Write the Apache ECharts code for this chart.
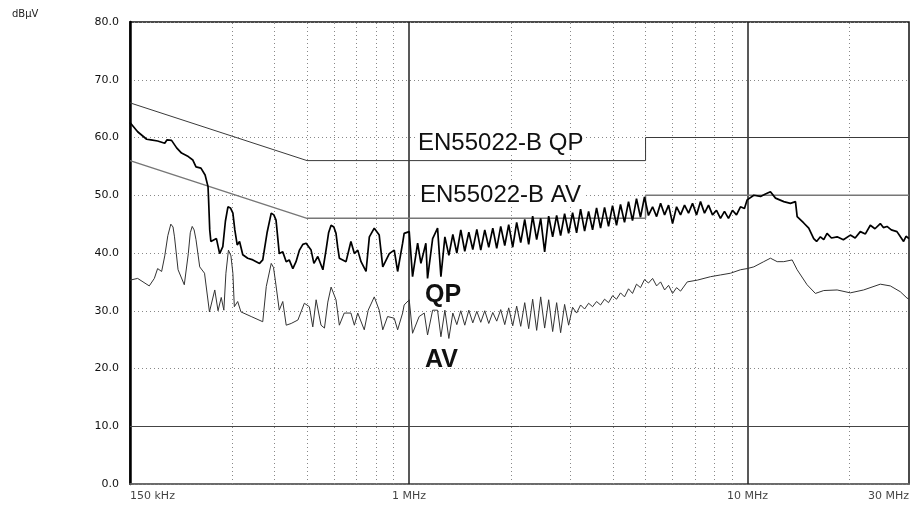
<!DOCTYPE html>
<html>
<head>
<meta charset="utf-8">
<script src="https://cdn.jsdelivr.net/npm/echarts@6/dist/echarts.min.js"></script>
<style>
html,body{margin:0;padding:0;background:#fff;}
#chart{width:912px;height:506px;}
</style>
</head>
<body>
<div id="chart"></div>
<script>
// ---- data (frequency in MHz, level in dBuV) ----
var qpScan = [
[0.150,62.6],[0.158,61.0],[0.168,59.7],[0.173,59.6],[0.181,59.4],[0.190,59.0],[0.193,59.6],[0.199,59.5],[0.206,58.2],[0.213,57.3],
[0.223,56.7],[0.230,56.1],[0.235,54.9],[0.243,54.7],[0.250,53.5],[0.255,51.5],[0.256,49.2],[0.258,44.0],[0.260,42.0],[0.270,42.5],
[0.276,39.9],[0.282,41.1],[0.287,45.5],[0.292,48.0],[0.297,47.8],[0.302,46.9],[0.306,44.0],[0.311,41.4],[0.316,42.0],[0.323,39.7],
[0.334,39.1],[0.346,38.8],[0.362,38.2],[0.370,38.8],[0.381,43.5],[0.392,46.9],[0.399,46.6],[0.405,45.7],[0.410,42.5],[0.414,39.9],
[0.424,40.2],[0.434,38.5],[0.443,38.8],[0.454,37.3],[0.464,38.5],[0.475,40.5],[0.486,41.5],[0.497,41.7],[0.514,40.5],[0.524,38.2],
[0.538,39.4],[0.557,37.1],[0.569,40.5],[0.579,43.5],[0.589,44.8],[0.600,44.5],[0.609,43.4],[0.616,41.0],[0.623,39.1],[0.652,38.5],
[0.674,42.0],[0.690,39.9],[0.706,40.5],[0.722,38.5],[0.747,36.8],[0.764,42.8],[0.790,44.3],[0.817,43.1],[0.837,37.6],[0.875,39.9],
[0.905,40.5],[0.926,36.8],[0.958,41.7],[0.968,43.4],[1.002,43.7],[1.025,35.9],[1.061,41.7],[1.085,38.2],[1.122,41.7],[1.135,35.6],
[1.175,42.5],[1.215,44.3],[1.243,35.9],
[1.277,42.8],[1.312,39.6],[1.348,43.2],[1.385,40.0],[1.423,44.0],[1.462,40.3],[1.503,43.6],[1.544,40.6],[1.587,44.1],[1.630,40.5],
[1.675,44.0],[1.721,41.0],[1.769,44.3],[1.817,40.8],[1.867,44.6],[1.919,41.3],[1.971,44.9],[2.026,41.0],[2.081,45.3],[2.139,41.8],
[2.198,45.8],[2.258,41.5],[2.320,46.4],[2.384,42.3],[2.450,46.0],[2.517,40.2],[2.587,46.4],[2.658,42.8],[2.731,46.5],[2.806,43.0],
[2.883,46.8],[2.963,43.4],[3.044,47.0],[3.128,43.5],[3.214,47.6],[3.303,43.8],[3.394,47.2],[3.487,44.0],[3.583,47.8],[3.682,44.3],
[3.783,47.9],[3.887,44.6],[3.994,48.2],[4.104,44.8],[4.217,48.4],[4.333,45.3],[4.453,48.9],[4.575,45.6],[4.701,49.4],[4.831,46.2],
[4.964,49.7],[5.100,46.5],
[5.245,48.0],[5.390,46.3],[5.538,48.6],[5.691,46.6],[5.847,48.3],[6.008,45.1],[6.174,48.0],[6.344,46.6],[6.518,48.3],[6.698,46.9],
[6.882,48.6],[7.072,46.6],[7.266,48.9],[7.466,46.9],[7.672,48.3],[7.883,46.6],[8.100,47.4],[8.323,46.0],[8.552,47.2],[8.788,46.0],
[9.030,47.4],[9.279,46.6],[9.534,48.0],[9.797,47.7],
[9.98,49.2],[10.44,50.0],[10.93,49.8],[11.30,50.2],[11.69,50.6],[12.10,49.5],[12.80,48.9],[13.39,48.6],[13.86,48.9],[14.02,46.3],
[14.66,45.2],[15.17,44.3],[15.69,42.5],[16.00,42.0],[16.42,42.8],[16.80,42.3],[17.18,43.4],[17.70,42.6],[18.40,42.8],[19.20,42.3],
[20.13,43.1],[20.80,42.6],[21.54,43.7],[22.30,43.3],[23.06,44.8],[23.80,44.2],[24.68,45.1],[25.20,44.4],[25.83,44.6],[26.60,44.0],
[27.64,43.7],[28.30,42.8],[28.92,42.0],[29.40,42.9],[30.00,42.5]
];

var avScan = [
[0.150,35.3],[0.158,35.6],[0.171,34.3],[0.177,35.6],[0.181,37.3],[0.186,36.8],[0.190,39.5],[0.194,43.0],[0.198,45.0],[0.201,44.5],
[0.203,42.8],[0.208,37.1],[0.217,34.5],[0.223,39.9],[0.226,43.5],[0.229,44.6],[0.232,44.0],[0.235,42.3],[0.241,37.6],[0.249,36.5],
[0.2575,29.8],[0.267,33.6],[0.273,30.0],[0.279,32.3],[0.284,30.1],[0.288,36.5],[0.293,40.5],[0.298,39.5],[0.302,36.5],[0.305,30.7],
[0.312,31.6],[0.319,29.8],[0.342,29.0],[0.370,28.1],[0.379,34.2],[0.392,38.2],[0.398,37.5],[0.403,35.3],[0.414,30.1],[0.424,31.6],
[0.434,27.5],[0.449,27.8],[0.470,28.4],[0.491,31.3],[0.508,30.7],[0.520,27.2],[0.532,31.9],[0.550,27.5],[0.563,27.0],[0.576,31.5],
[0.589,34.1],[0.609,31.9],[0.623,27.5],[0.644,29.6],[0.674,29.6],[0.690,27.5],[0.706,29.6],[0.738,26.7],[0.758,30.1],[0.790,32.4],
[0.817,30.1],[0.837,26.7],[0.865,29.0],[0.905,28.7],[0.926,26.7],[0.958,29.6],[0.968,31.0],[1.002,31.9],[1.025,26.1],[1.072,29.0],
[1.110,29.6],[1.135,25.8],[1.175,30.1],[1.215,30.1],[1.243,25.5],
[1.277,30.1],[1.312,25.2],[1.348,29.6],[1.385,27.6],[1.423,30.0],[1.462,27.5],[1.503,30.1],[1.544,27.9],[1.587,29.9],[1.630,28.0],
[1.675,30.0],[1.721,27.8],[1.769,29.7],[1.817,28.2],[1.867,30.2],[1.919,27.6],[1.971,30.5],[2.026,27.4],[2.081,30.8],[2.139,27.3],
[2.198,31.4],[2.258,26.9],[2.320,32.0],[2.384,26.6],[2.450,32.4],[2.517,27.0],[2.587,31.9],[2.658,26.4],[2.731,31.4],[2.806,26.2],
[2.883,31.1],[2.963,27.5],[3.044,30.6],[3.128,29.6],[3.214,31.0],[3.303,30.3],[3.394,31.3],[3.487,30.7],[3.583,31.6],[3.682,31.0],
[3.783,32.0],[3.887,31.4],[3.994,32.6],[4.104,32.0],[4.217,33.1],[4.333,32.4],[4.453,33.8],[4.575,33.0],[4.701,34.6],[4.831,34.0],
[4.964,35.4],[5.100,34.8],
[5.245,35.6],[5.390,34.3],[5.538,35.0],[5.691,33.6],[5.847,34.4],[6.008,33.0],[6.174,34.0],[6.344,33.4],[6.640,35.0],[7.107,35.3],
[7.780,35.9],[8.326,36.2],[8.911,36.5],[9.537,37.1],[9.98,37.3],[10.44,37.6],[11.17,38.5],[11.69,39.1],[12.24,38.5],[12.80,38.5],
[13.55,38.8],[14.02,37.1],[15.00,34.5],[15.87,33.0],[16.80,33.5],[18.40,33.6],[20.13,33.1],[22.03,33.6],[24.68,34.6],[26.42,34.3],
[28.27,33.3],[29.59,32.2],[30.00,32.0]
];

var limitFreq = [0.15, 0.5, 5, 5, 30];
var qpLimitLevel = [66, 56, 56, 60, 60];
var avLimitLevel = [56, 46, 46, 50, 50];

var xTickValues = [0.15, 1, 10, 30];
var xTickLabels = ['150 kHz', '1 MHz', '10 MHz', '30 MHz'];
var minorGridFreq = [0.3, 0.4, 0.5, 0.6, 0.7, 0.8, 0.9, 2, 3, 4, 5, 6, 7, 8, 9, 20];
var majorGridFreq = [1, 10];
var solidLevel = [10];

// ---- chart ----
function pairs(fs, ls) { return fs.map(function (f, i) { return [f, ls[i]]; }); }

var chart = echarts.init(document.getElementById('chart'), null, { renderer: 'canvas' });

var gridLines = [];
minorGridFreq.forEach(function (f) {
  gridLines.push({ xAxis: f, lineStyle: { color: '#888', width: 1, type: [1, 3] } });
});
majorGridFreq.forEach(function (f) {
  gridLines.push({ xAxis: f, lineStyle: { color: '#222', width: 1.5, type: 'solid' } });
});
solidLevel.forEach(function (v) {
  gridLines.push({ yAxis: v, lineStyle: { color: '#444', width: 1, type: 'solid' } });
});

var labelAlign = ['left', 'center', 'center', 'right'];

chart.setOption({
  animation: false,
  backgroundColor: '#fff',
  grid: { left: 130, right: 3, top: 22, bottom: 22, show: true, borderColor: '#111', borderWidth: 1.5, backgroundColor: 'transparent' },
  xAxis: {
    type: 'log', logBase: 10, min: 0.15, max: 30,
    axisLine: { show: true, lineStyle: { color: '#777', width: 1.5 } },
    axisTick: { show: false }, axisLabel: { show: false }, splitLine: { show: false }, minorSplitLine: { show: false }
  },
  yAxis: {
    type: 'value', min: 0, max: 80, interval: 10,
    axisLine: { show: true, lineStyle: { color: '#000', width: 2.5 } },
    axisTick: { show: false },
    axisLabel: { formatter: function (v) { return v.toFixed(1); }, fontFamily: 'DejaVu Sans', fontSize: 11, color: '#111', margin: 11 },
    splitLine: { show: true, lineStyle: { color: '#888', width: 1, type: [1, 3] } }
  },
  graphic: [
    { type: 'text', left: 12, top: 9, z: 100, style: { text: 'dBµV', font: '10px "DejaVu Sans"', fill: '#222' } },
    { type: 'text', left: 416, top: 131, z: 100, style: { text: 'EN55022-B QP', font: '24px "Liberation Sans"', fill: '#111', backgroundColor: '#fff', padding: [0, 2, 0, 2] } },
    { type: 'text', left: 418, top: 183, z: 100, style: { text: 'EN55022-B AV', font: '24px "Liberation Sans"', fill: '#111', backgroundColor: '#fff', padding: [0, 2, 0, 2] } },
    { type: 'text', left: 425, top: 283, z: 100, style: { text: 'QP', font: 'bold 25px "Liberation Sans"', fill: '#111' } },
    { type: 'text', left: 425, top: 348, z: 100, style: { text: 'AV', font: 'bold 25px "Liberation Sans"', fill: '#111' } }
  ],
  series: [
    {
      name: 'EN55022-B QP limit', type: 'line', data: pairs(limitFreq, qpLimitLevel), symbol: 'none',
      lineStyle: { color: '#3a3a3a', width: 1 }, z: 3,
      markLine: { silent: true, symbol: 'none', label: { show: false }, data: gridLines, z: 1 }
    },
    { name: 'EN55022-B AV limit', type: 'line', data: pairs(limitFreq, avLimitLevel), symbol: 'none', lineStyle: { color: '#777', width: 1.5 }, z: 3 },
    { name: 'AV', type: 'line', data: avScan, symbol: 'none', lineStyle: { color: '#333', width: 1 }, z: 4 },
    { name: 'QP', type: 'line', data: qpScan, symbol: 'none', lineStyle: { color: '#000', width: 1.7 }, z: 5 },
    {
      name: 'freq labels', type: 'scatter', clip: false, symbolSize: 0, silent: true, z: 6,
      data: xTickValues.map(function (f, i) {
        return { value: [f, 0], label: { show: true, position: 'bottom', distance: 7, formatter: xTickLabels[i], align: labelAlign[i],
          fontFamily: 'DejaVu Sans', fontSize: 11, color: '#111' } };
      })
    }
  ]
});
</script>
</body>
</html>
